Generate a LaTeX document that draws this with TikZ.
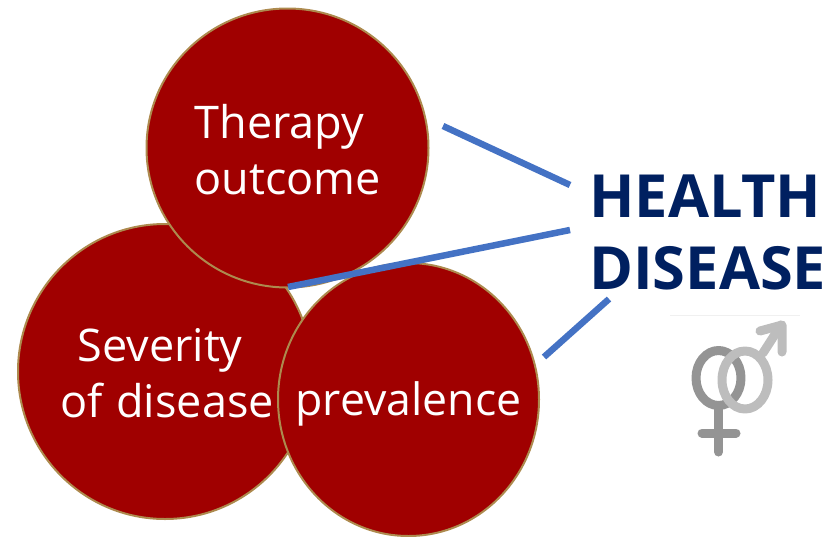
\documentclass[tikz,border=0pt]{standalone}
\usepackage{fontspec}
\setmainfont{Open Sans}
\usetikzlibrary{shapes.geometric}
\definecolor{disc}{HTML}{A00000}
\definecolor{rim}{HTML}{AD8A4E}
\definecolor{link}{HTML}{4472C4}
\definecolor{navy}{HTML}{002060}
\tikzset{
  disc/.style={ellipse,draw=rim,line width=2pt,fill=disc,inner sep=0pt},
  lbl/.style={text=white,align=center,inner sep=0pt,font=\fontsize{45}{56}\selectfont},
  link/.style={draw=link,line width=6.5pt},
  fem/.style={draw=black!42,line width=9pt,line cap=round,line join=round},
  mal/.style={draw=black!26,line width=9pt,line cap=round,line join=round}
}
\begin{document}
\begin{tikzpicture}[x=1pt,y=-1pt]
\useasboundingbox (0,0) rectangle (835,536);
\node[disc,minimum width=294pt,minimum height=295pt] (sev) at (165,371.5) {};
\node[disc,minimum width=261pt,minimum height=273pt] (pre) at (408.5,399.5) {};
\node[disc,minimum width=282pt,minimum height=279pt] (the) at (287.5,148) {};
\node[lbl] (thet) at (287.5,150) {Therapy\hspace*{16pt}\\outcome};
\node[lbl] (sevt) at (167,373) {Severity\hspace*{14pt}\\of\hspace{2pt} disease};
\node[lbl,font=\fontsize{44.6}{56}\selectfont] (pret) at (408.5,404) {prevalence};
\node[text=navy,align=left,anchor=west,inner sep=0pt,font=\fontsize{59.5}{72}\selectfont\bfseries] (hd) at (589,232) {HEALTH\\DISEASE};
\coordinate (a1) at (443,126); \coordinate (a2) at (570,185);
\coordinate (b1) at (288,287); \coordinate (b2) at (570,230);
\coordinate (c1) at (544,357); \coordinate (c2) at (609,299);
\draw[link] (a1) -- (a2);
\draw[link] (b1) -- (b2);
\draw[link] (c1) -- (c2);
\draw[black!6,line width=1pt] (670,315) -- (800,315);
\draw[fem] (718.5,378) ellipse (22.5pt and 27.5pt);
\draw[fem] (718.5,409) -- (718.5,452);
\draw[fem] (702,433) -- (736,433);
\draw[mal] (745,380) ellipse (23pt and 29pt);
\draw[mal] (763,353) -- (781,325);
\draw[mal] (760,331) -- (782,325) -- (782,352);
\end{tikzpicture}
\end{document}
